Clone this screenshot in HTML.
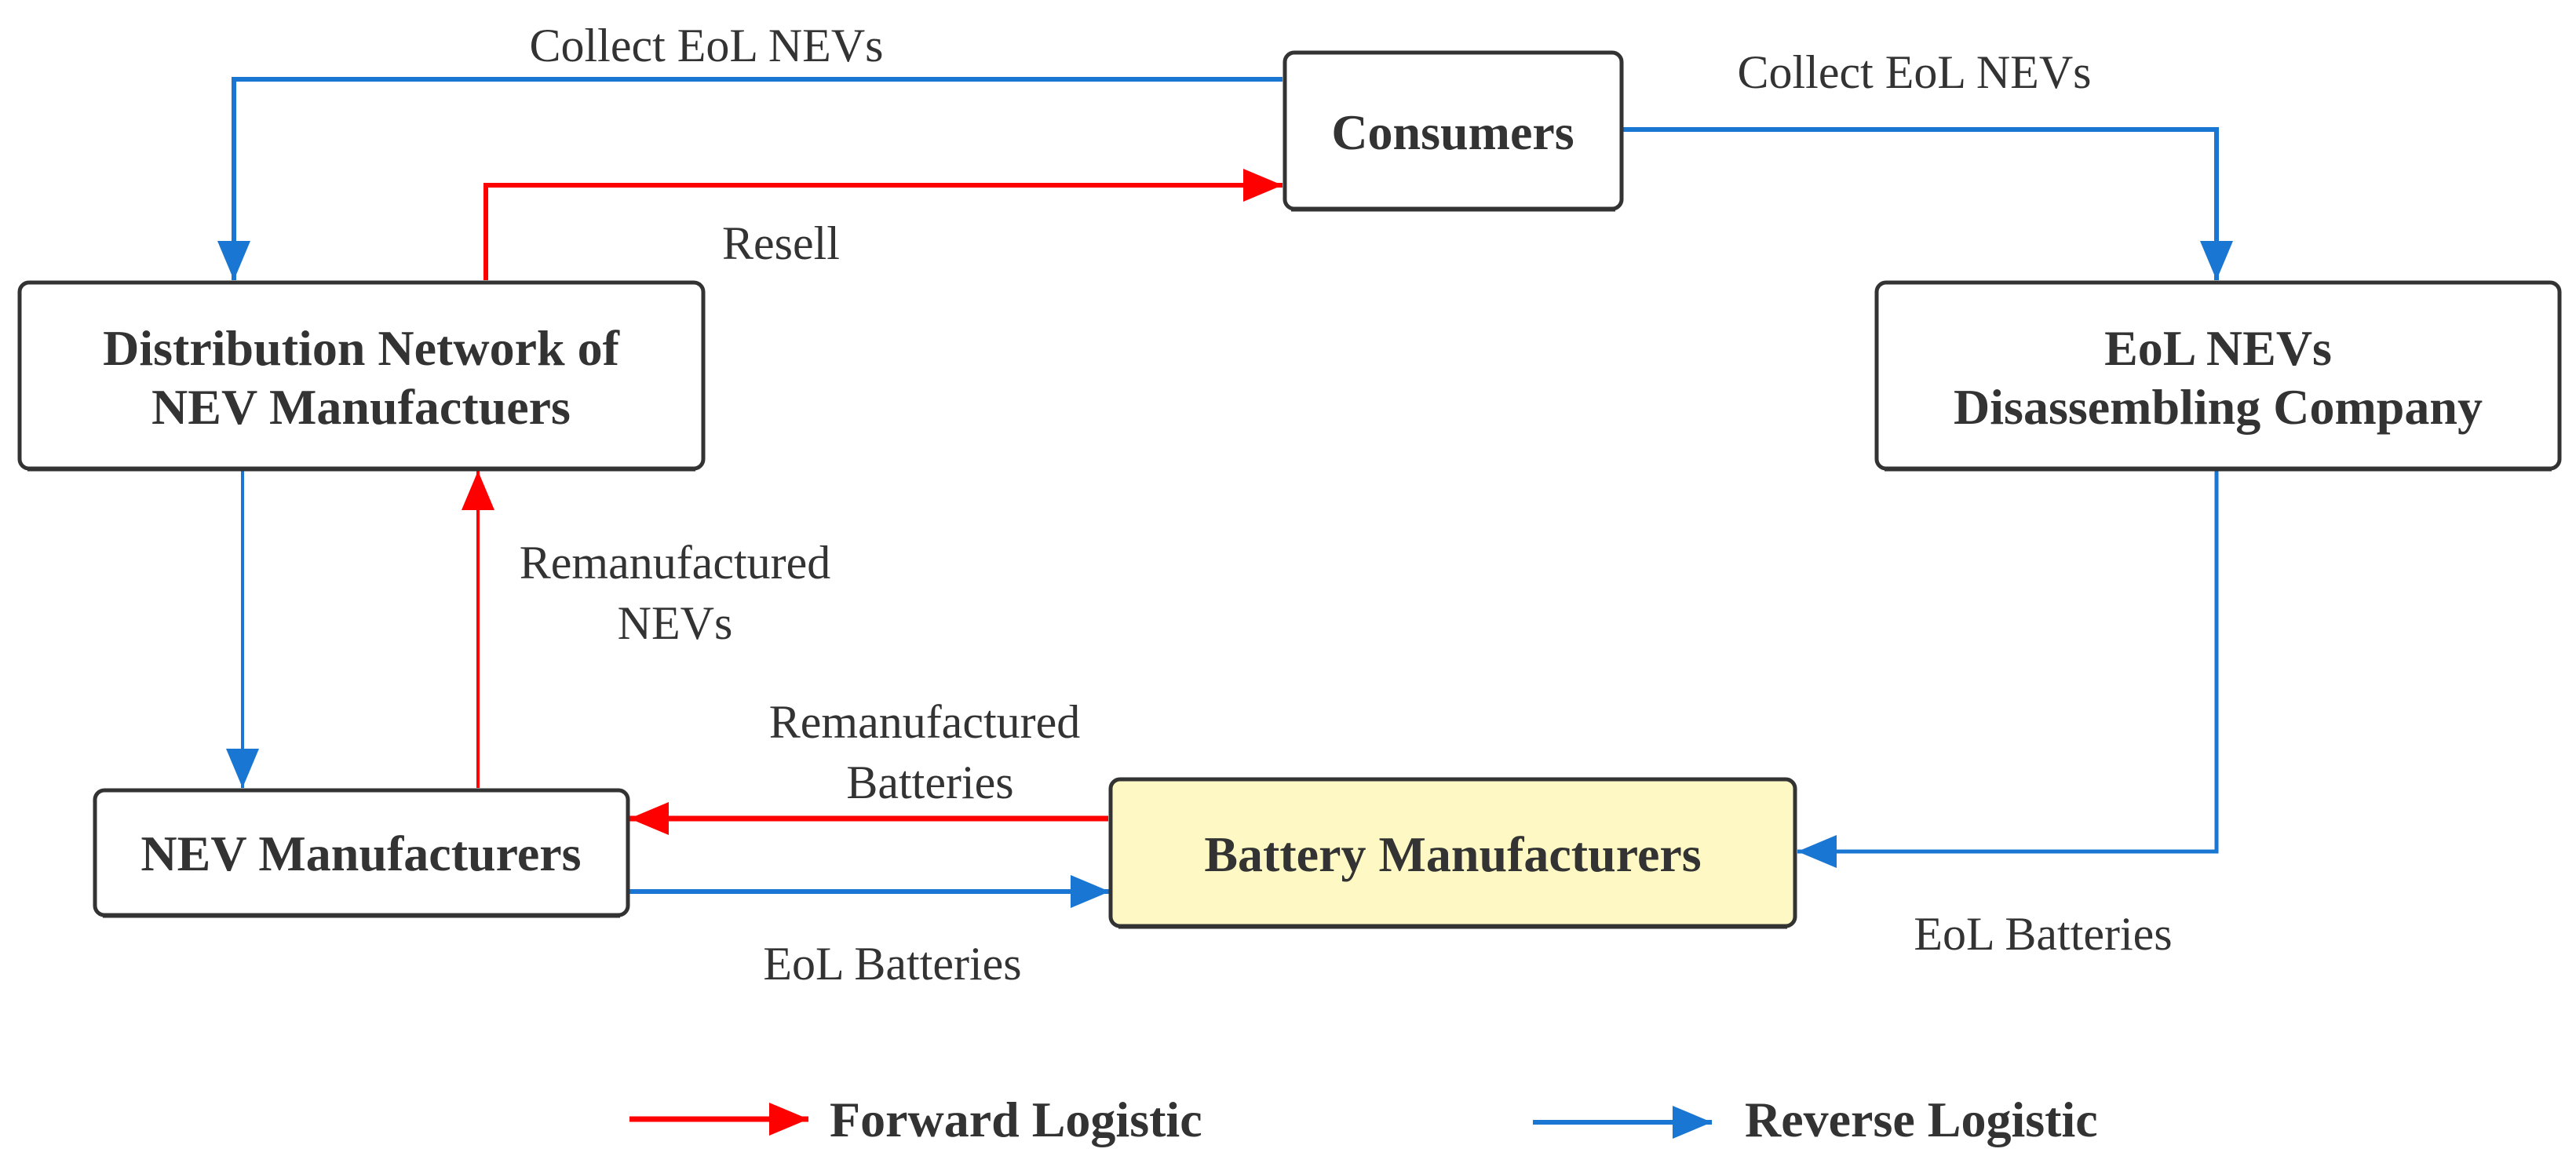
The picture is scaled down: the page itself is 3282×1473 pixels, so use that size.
<!DOCTYPE html>
<html><head><meta charset="utf-8"><style>
html,body{margin:0;padding:0;background:#fff;}
svg{display:block;}
svg text{font-family:"Liberation Serif","Times New Roman",Times,serif !important;fill:#333;}
.b{font-weight:bold;font-size:64px;}
.l{font-size:60px;}
</style></head><body>
<svg width="3282" height="1473" viewBox="0 0 3282 1473" xmlns="http://www.w3.org/2000/svg" font-family="Liberation Serif, serif">
<defs>
<marker id="ar" markerWidth="52" markerHeight="44" refX="50" refY="21" orient="auto" markerUnits="userSpaceOnUse"><path d="M0,0 L50,21 L0,42 Z" fill="#ff0000"/></marker>
<marker id="ab" markerWidth="52" markerHeight="44" refX="50" refY="21" orient="auto" markerUnits="userSpaceOnUse"><path d="M0,0 L50,21 L0,42 Z" fill="#1976d2"/></marker>
</defs>
<g fill="none" stroke-linejoin="miter">
<polyline points="1634,101 298,101 298,357" stroke="#1976d2" stroke-width="6" marker-end="url(#ab)"/>
<polyline points="2068,165 2824,165 2824,357" stroke="#1976d2" stroke-width="6" marker-end="url(#ab)"/>
<polyline points="309,600 309,1004" stroke="#1976d2" stroke-width="4" marker-end="url(#ab)"/>
<polyline points="2824,600 2824,1085 2290,1085" stroke="#1976d2" stroke-width="5" marker-end="url(#ab)"/>
<polyline points="802,1136 1414,1136" stroke="#1976d2" stroke-width="6" marker-end="url(#ab)"/>
<polyline points="619,357 619,236 1634,236" stroke="#ff0000" stroke-width="6" marker-end="url(#ar)"/>
<polyline points="609,1004 609,600" stroke="#ff0000" stroke-width="4" marker-end="url(#ar)"/>
<polyline points="1412,1043 802,1043" stroke="#ff0000" stroke-width="7" marker-end="url(#ar)"/>
<polyline points="802,1426 1030,1426" stroke="#ff0000" stroke-width="7" marker-end="url(#ar)"/>
<polyline points="1953,1430 2181,1430" stroke="#1976d2" stroke-width="6" marker-end="url(#ab)"/>
</g>
<g stroke="#333" stroke-width="5">
<rect x="1637" y="67" width="429" height="199" rx="12" fill="#fff"/>
<rect x="25" y="360" width="871" height="237" rx="12" fill="#fff"/>
<rect x="2391" y="360" width="870" height="237" rx="12" fill="#fff"/>
<rect x="121" y="1007" width="679" height="159" rx="12" fill="#fff"/>
<rect x="1415" y="993" width="872" height="187" rx="12" fill="#fef9c4"/>
</g>
<g stroke="#333" stroke-width="3" fill="none">
<line x1="1645" y1="268" x2="2058" y2="268"/>
<line x1="35" y1="599" x2="886" y2="599"/>
<line x1="2401" y1="599" x2="3251" y2="599"/>
<line x1="131" y1="1168" x2="790" y2="1168"/>
<line x1="1425" y1="1182" x2="2277" y2="1182"/>
</g>
<g text-anchor="middle">
<text x="1851" y="190" class="b">Consumers</text>
<text x="460" y="465" class="b">Distribution Network of</text>
<text x="460" y="540" class="b">NEV Manufactuers</text>
<text x="2826" y="465" class="b">EoL NEVs</text>
<text x="2826" y="540" class="b">Disassembling Company</text>
<text x="460" y="1109" class="b">NEV Manufacturers</text>
<text x="1851" y="1110" class="b">Battery Manufacturers</text>
<text x="900" y="78" class="l">Collect EoL NEVs</text>
<text x="2439" y="112" class="l">Collect EoL NEVs</text>
<text x="995" y="330" class="l">Resell</text>
<text x="860" y="737" class="l">Remanufactured</text>
<text x="860" y="814" class="l">NEVs</text>
<text x="1178" y="940" class="l">Remanufactured</text>
<text x="1185" y="1017" class="l">Batteries</text>
<text x="1137" y="1248" class="l">EoL Batteries</text>
<text x="2603" y="1210" class="l">EoL Batteries</text>
</g>
<text x="1057" y="1448" class="b">Forward Logistic</text>
<text x="2223" y="1448" class="b">Reverse Logistic</text>
</svg>
</body></html>
